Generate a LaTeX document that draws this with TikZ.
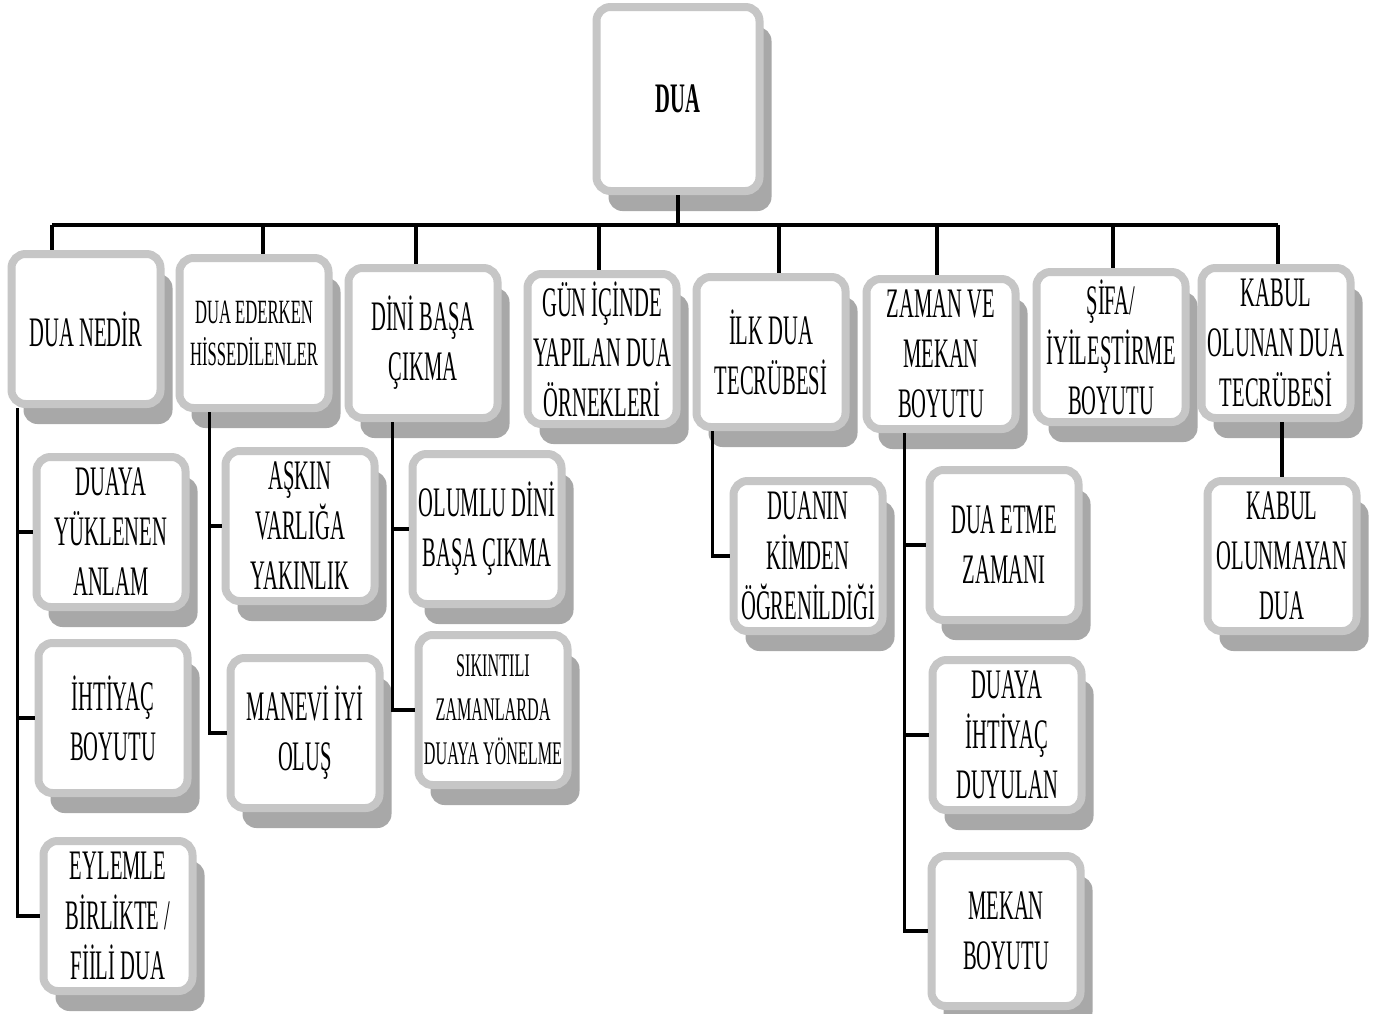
\documentclass[tikz,border=0pt]{standalone}
\usepackage{fontspec}
\setmainfont{Liberation Serif}[FakeStretch=0.49]
\usetikzlibrary{shadows}

\begin{document}
\begin{tikzpicture}[x=1pt, y=-1pt]
    \tikzstyle{theme}=[draw=gray!45, line width=8pt, fill=white, rounded corners=14pt, inner sep=2pt, minimum width=149pt, minimum height=150pt, align=center, font=\fontsize{42}{50}\selectfont, general shadow={fill=gray!68, shadow xshift=12pt, shadow yshift=-20pt}]
    \tikzstyle{link}=[line width=3.5pt]
    \tikzset{every node/.append style={text=black}}

    \fill[white] (0,0) rectangle (1386,1013);
    \useasboundingbox (0,0) rectangle (1386,1013);

    \node[theme, minimum width=163pt, minimum height=184pt, font=\bfseries\fontsize{42}{50}\selectfont] (dua) at (678,99) {DUA};

    \node[theme] (t1) at (86,329) {DUA NEDİR};
    \node[theme, font=\fontsize{34}{42}\selectfont] (t2) at (254,333) {DUA EDERKEN\\HİSSEDİLENLER};
    \node[theme] (t3) at (423,343) {DİNİ BAŞA\\ÇIKMA};
    \node[theme] (t4) at (602,349) {GÜN İÇİNDE\\YAPILAN DUA\\ÖRNEKLERİ};
    \node[theme] (t5) at (771,352) {İLK DUA\\TECRÜBESİ};
    \node[theme] (t6) at (941,354) {ZAMAN VE\\MEKAN\\BOYUTU};
    \node[theme] (t7) at (1111,347) {ŞİFA/\\İYİLEŞTİRME\\BOYUTU};
    \node[theme] (t8) at (1276,343) {KABUL\\OLUNAN DUA\\TECRÜBESİ};

    \node[theme] (s11) at (111,532) {DUAYA\\YÜKLENEN\\ANLAM};
    \node[theme] (s12) at (113,718) {İHTİYAÇ\\BOYUTU};
    \node[theme] (s13) at (118,916) {EYLEMLE\\BİRLİKTE /\\FİİLİ DUA};
    \node[theme] (s21) at (300,526) {AŞKIN\\VARLIĞA\\YAKINLIK};
    \node[theme] (s22) at (305,733) {MANEVİ İYİ\\OLUŞ};
    \node[theme] (s31) at (487,529) {OLUMLU DİNİ\\BAŞA ÇIKMA};
    \node[theme, font=\fontsize{33}{44}\selectfont] (s32) at (493,710) {SIKINTILI\\ZAMANLARDA\\DUAYA YÖNELME};
    \node[theme] (s51) at (808,556) {DUANIN\\KİMDEN\\ÖĞRENİLDİĞİ};
    \node[theme] (s61) at (1004,545) {DUA ETME\\ZAMANI};
    \node[theme] (s62) at (1007,735) {DUAYA\\İHTİYAÇ\\DUYULAN};
    \node[theme] (s63) at (1006,931) {MEKAN\\BOYUTU};
    \node[theme] (s81) at (1282,556) {KABUL\\OLUNMAYAN\\DUA};

    % main bar
    \coordinate (bar) at (678,225);
    \draw[link] (dua.south) -- (dua.south |- bar);
    \foreach \n/\dx in {1/-34,2/9,3/-7,4/-3,5/8,6/-4,7/2,8/2}
        \coordinate (top\n) at ([xshift=\dx pt]t\n.north);
    \draw[line width=4.5pt] (top1 |- bar) -- (top8 |- bar);
    \foreach \n in {1,...,8}
        \draw[link] (top\n |- bar) -- (top\n);

    % sub branches
    \coordinate (k1) at ([xshift=10pt]t1.south west);
    \coordinate (k2) at ([xshift=34pt]t2.south west);
    \coordinate (k3) at ([xshift=48pt]t3.south west);
    \coordinate (k5) at ([xshift=20pt]t5.south west);
    \coordinate (k6) at ([xshift=42pt]t6.south west);
    \foreach \s in {11,12,13}
        \draw[link] (k1) |- (s\s.west);
    \foreach \s in {21,22}
        \draw[link] (k2) |- (s\s.west);
    \foreach \s in {31,32}
        \draw[link] (k3) |- (s\s.west);
    \draw[link] (k5) |- (s51.west);
    \foreach \s in {61,62,63}
        \draw[link] (k6) |- (s\s.west);
    \draw[link] (s81.north |- t8.south) -- (s81.north);
\end{tikzpicture}
\end{document}
